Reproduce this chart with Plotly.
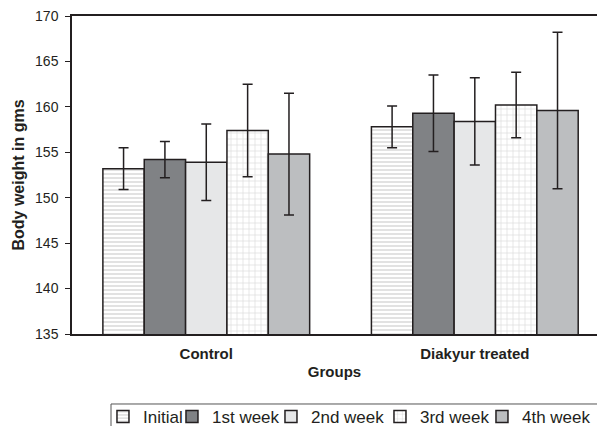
import plotly.graph_objects as go

groups = ["Control", "Diakyur treated"]
series = ["Initial", "1st week", "2nd week", "3rd week", "4th week"]
means = {
    "Initial":  [153.2, 157.8],
    "1st week": [154.2, 159.3],
    "2nd week": [153.9, 158.4],
    "3rd week": [157.4, 160.2],
    "4th week": [154.8, 159.6],
}
errs = {
    "Initial":  [2.3, 2.3],
    "1st week": [2.0, 4.2],
    "2nd week": [4.2, 4.8],
    "3rd week": [5.1, 3.6],
    "4th week": [6.7, 8.6],
}
y_ticks = [135, 140, 145, 150, 155, 160, 165, 170]

INK = "#231f20"
styles = {
    "Initial":  dict(color="white", pattern=dict(shape="-", fgcolor="#8a8a8a", bgcolor="white", size=4, solidity=0.25)),
    "1st week": dict(color="#808285"),
    "2nd week": dict(color="#e6e7e8"),
    "3rd week": dict(color="white", pattern=dict(shape="+", fgcolor="#9a9a9a", bgcolor="white", size=6, solidity=0.15)),
    "4th week": dict(color="#bcbec0"),
}
legend_w = [24, 54, 64, 57, 80]

fig = go.Figure()
for i, s in enumerate(series):
    st = styles[s]
    marker = dict(color=st["color"], line=dict(color=INK, width=1.5))
    if "pattern" in st:
        marker["pattern"] = st["pattern"]
    fig.add_trace(go.Bar(
        name=s, x=groups, y=means[s],
        marker=marker,
        error_y=dict(type="data", array=errs[s], visible=True, color=INK, thickness=1.5, width=5),
        legendwidth=legend_w[i],
    ))

LEG_Y = -0.2044
fig.update_layout(
    width=597, height=426,
    margin=dict(l=72, r=0, t=16, b=92, autoexpand=False),
    paper_bgcolor="white", plot_bgcolor="white",
    barmode="group", bargap=0.23, bargroupgap=0,
    font=dict(family="Liberation Sans, Arial, sans-serif", color=INK),
    showlegend=True,
    legend=dict(orientation="h", x=0.0590, xanchor="left", y=LEG_Y, yanchor="top",
                font=dict(size=17, color=INK), borderwidth=0, bgcolor="rgba(0,0,0,0)",
                itemwidth=30, tracegroupgap=0),
    shapes=[
        dict(type="line", xref="paper", yref="paper", x0=0.0743, x1=1.0, y0=-0.2201, y1=-0.2201,
             line=dict(color="#555555", width=1)),
        dict(type="line", xref="paper", yref="paper", x0=0.0743, x1=0.0743, y0=-0.2201, y1=-0.35,
             line=dict(color="#555555", width=1)),
    ],
)
fig.update_xaxes(
    range=[-0.5, 1.455], showline=True, linecolor=INK, linewidth=1.5, mirror=True,
    ticks="", showgrid=False, tickfont=dict(size=15, color=INK, weight="bold"),
    ticklabelstandoff=5,
    title=dict(text="<b>Groups</b>", font=dict(size=15, color=INK), standoff=6),
)
fig.update_yaxes(
    range=[135, 170], tickvals=y_ticks, showline=True, linecolor=INK, linewidth=1.5,
    ticks="outside", ticklen=5, tickcolor=INK, tickwidth=1.2, showgrid=False, zeroline=False,
    tickfont=dict(size=14, color=INK), ticklabelstandoff=4,
    title=dict(text="<b>Body weight in gms</b>", font=dict(size=16, color=INK), standoff=6),
)
fig.write_html("out.html", config={"displayModeBar": False},
               post_script="document.body.style.margin='0';document.body.style.overflow='hidden';")
